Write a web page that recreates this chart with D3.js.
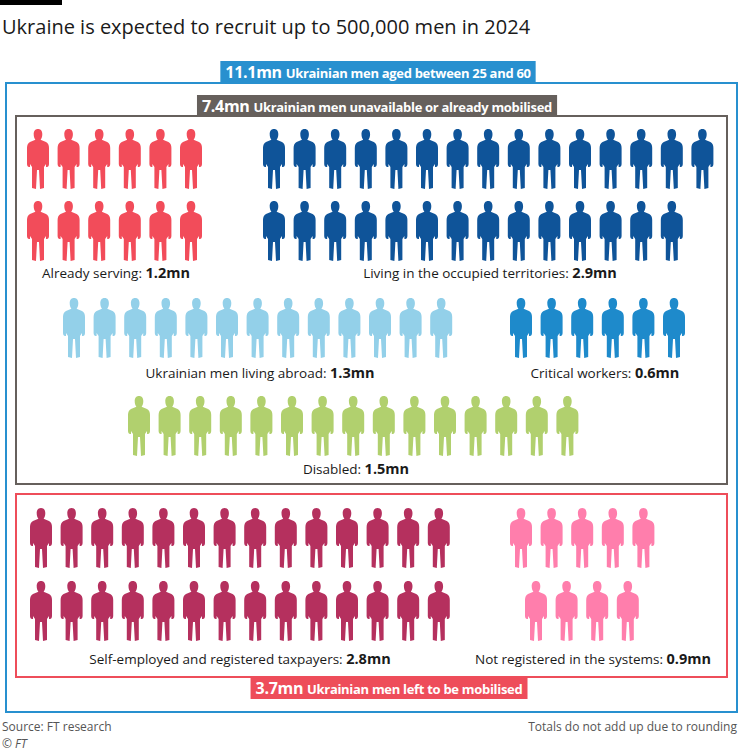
<!DOCTYPE html><html><head><meta charset="utf-8"><script src="https://cdn.jsdelivr.net/npm/d3@7"></script>
<style>body{margin:0;background:#fff;font-family:"Open Sans",Lato,sans-serif}</style></head><body><svg id="c" width="740" height="751"></svg>
<script>
const categories=["Already serving","Living in the occupied territories","Ukrainian men living abroad","Critical workers","Disabled","Self-employed and registered taxpayers","Not registered in the systems"];
const values=[1.2,2.9,1.3,0.6,1.5,2.8,0.9];
const valueLabels=["1.2mn","2.9mn","1.3mn","0.6mn","1.5mn","2.8mn","0.9mn"];
const rowCounts=[[6,6],[15,14],[13],[6],[15],[14,14],[5,4]];
const colors=["#f24c5a","#0f5499","#93d0e9","#1e8acb","#b1d06e","#b5305e","#ff7eac"];
const totals=["11.1mn","7.4mn","3.7mn"];
const totalLabels=["Ukrainian men aged between 25 and 60","Ukrainian men unavailable or already mobilised","Ukrainian men left to be mobilised"];

const layout=[
 {x:27,y:[128,200],ly:278,lx:116},
 {x:263,y:[128,200],ly:278,lx:490},
 {x:63,y:[297],ly:378,lx:260},
 {x:510,y:[297],ly:378,lx:605},
 {x:128,y:[395],ly:474,lx:356},
 {x:30,y:[507,580],ly:664,lx:240},
 {x:510,y:[507,580],ly:664,lx:593,offs:[0,15]}
];
const svg=d3.select("#c");
svg.append("rect").attr("x",0).attr("y",0).attr("width",62).attr("height",5).attr("fill","#000");
svg.append("text").attr("x",2).attr("y",34).attr("font-size",20).attr("fill","#1a1a1a").text("Ukraine is expected to recruit up to 500,000 men in 2024");

const step=30.6;
const person="M11,1 C14,1 15.3,3.2 15.3,6.3 C15.3,8.8 14.5,10.6 13.6,11.8 L19,14 C21,15 22,17 22,20 L22,36 C22,38 21,39 20,39 L19,39 L19,36 L17,39 L17,60 L13,61 L12,42 L10,42 L9,61 L5,60 L5,39 L3,36 L3,39 L2,39 C1,39 0,38 0,36 L0,20 C0,17 1,15 3,14 L8.4,11.8 C7.5,10.6 6.7,8.8 6.7,6.3 C6.7,3.2 8,1 11,1 Z";

function frame(x,y,w,h,col,cx,ly,i){
 svg.append("rect").attr("x",x).attr("y",y).attr("width",w).attr("height",h).attr("fill","none").attr("stroke",col).attr("stroke-width",2);
 const bg=svg.append("rect").attr("y",ly).attr("height",22).attr("fill",col);
 const t=svg.append("text").attr("x",cx).attr("y",ly+17).attr("text-anchor","middle").attr("fill","#fff").attr("font-weight","bold").attr("font-size",13).attr("letter-spacing",-0.3);
 t.append("tspan").attr("font-size",16).text(totals[i]+" ");
 t.append("tspan").text(totalLabels[i]);
 const b=t.node().getBBox();
 bg.attr("x",b.x-5).attr("width",b.width+10);
}
frame(6,83,731,629,"#2890cf",378,61,0);
frame(16,116,711,368,"#66605c",377,95,1);
frame(16,494,711,183,"#ee4d5a",389,677,2);

categories.forEach((c,ci)=>{
 const L=layout[ci];
 rowCounts[ci].forEach((n,ri)=>{
  const o=L.offs?L.offs[ri]:0;
  const xs=d3.scaleLinear().domain([0,1]).range([L.x+o,L.x+o+step]);
  svg.append("g").selectAll("path").data(d3.range(n)).join("path")
   .attr("d",person).attr("fill",colors[ci])
   .attr("transform",d=>`translate(${xs(d)},${L.y[ri]})`);
 });
 const t=svg.append("text").attr("x",L.lx).attr("y",L.ly).attr("text-anchor","middle").attr("font-size",13.5).attr("fill","#1a1a1a");
 t.append("tspan").text(c+": ");
 t.append("tspan").attr("font-weight","bold").attr("font-size",14.5).text(valueLabels[ci]);
});
svg.append("text").attr("x",2).attr("y",731).attr("font-size",12).attr("fill","#555").text("Source: FT research");
svg.append("text").attr("x",2).attr("y",748).attr("font-size",12).attr("fill","#555").attr("font-style","italic").text("© FT");
svg.append("text").attr("x",737).attr("y",731).attr("text-anchor","end").attr("font-size",12).attr("fill","#555").text("Totals do not add up due to rounding");
</script></body></html>
